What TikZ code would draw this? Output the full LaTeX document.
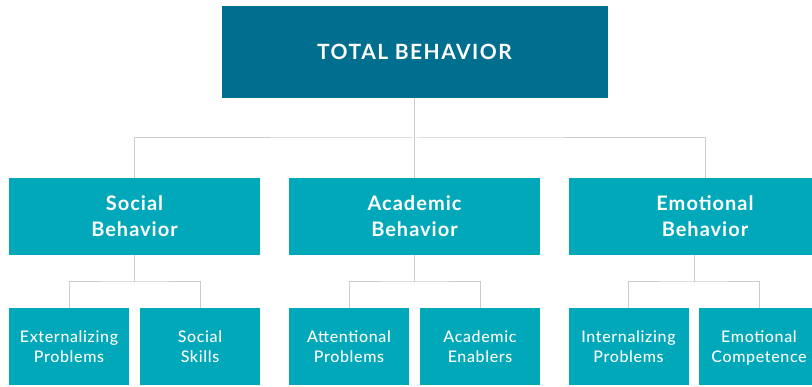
\documentclass[tikz,border=0pt]{standalone}
\usepackage{fontspec}
\setmainfont{Lato}
\newfontfamily\trackfont[LetterSpace=7]{Lato}
\newfontfamily\midfont[LetterSpace=5]{Lato}
\newfontfamily\leaffont[LetterSpace=4]{Lato Medium}
\usepackage{tikz}
\usetikzlibrary{positioning,calc}

\definecolor{darkteal}{RGB}{0,110,143}
\definecolor{boxteal}{RGB}{0,168,186}
\definecolor{linkgray}{RGB}{204,204,204}

\begin{document}
\begin{tikzpicture}[
    x=1pt, y=-1pt,
    box/.style={rectangle, fill=boxteal, text=white, inner sep=0pt, align=center,
        text depth=0pt},
    topbox/.style={box, fill=darkteal, minimum width=386pt, minimum height=92pt,
        font=\trackfont\bfseries\fontsize{21}{26}\selectfont},
    midbox/.style={box, minimum width=251pt, minimum height=77pt,
        font=\midfont\bfseries\fontsize{20}{26}\selectfont},
    leafbox/.style={box, minimum width=120pt, minimum height=77pt,
        font=\leaffont\fontsize{16}{20.5}\selectfont},
    link/.style={draw, color=linkgray, line width=1pt}
]

\useasboundingbox (0,0) rectangle (812,387);
\clip (0,0) rectangle (812,387);

% Top level
\node[topbox] (total) at (414.5, 52) {TOTAL BEHAVIOR};

% Second level
\node[midbox] (social) at (134.5, 216.5) {Social\\Behavior};
\node[midbox] (academic) at (414.5, 216.5) {Academic\\Behavior};
\node[midbox, minimum width=272pt] (emotional) at (705, 216.5) {Emotional\\Behavior};

% Third level
\node[leafbox] (extern) at (69, 346.5) {Externalizing\\Problems};
\node[leafbox] (socskill) at (200, 346.5) {Social\\Skills};
\node[leafbox] (attent) at (349, 346.5) {Attentional\\Problems};
\node[leafbox] (acadenab) at (480, 346.5) {Academic\\Enablers};
\node[leafbox] (intern) at (628.5, 346.5) {Internalizing\\Problems};
\node[leafbox] (emocomp) at (759, 346.5) {Emotional\\Competence};

% Junction points
\coordinate (bus) at (414.5, 138);
\coordinate (socj) at (134.5, 282);
\coordinate (acaj) at (414.5, 282);
\coordinate (emoj) at (694, 282);

% Connectors
\draw[link] (total) -- (bus);
\draw[link] (social.north) |- (bus) -| (emotional.north);
\draw[link] (bus) -- (academic);

\draw[link] (social) -- (socj);
\draw[link] (extern.north) |- (socj) -| (socskill.north);
\draw[link] (academic) -- (acaj);
\draw[link] (attent.north) |- (acaj) -| (acadenab.north);
\draw[link] (emotional.south -| emoj) -- (emoj);
\draw[link] (intern.north) |- (emoj) -| (emocomp.north);

\end{tikzpicture}
\end{document}
